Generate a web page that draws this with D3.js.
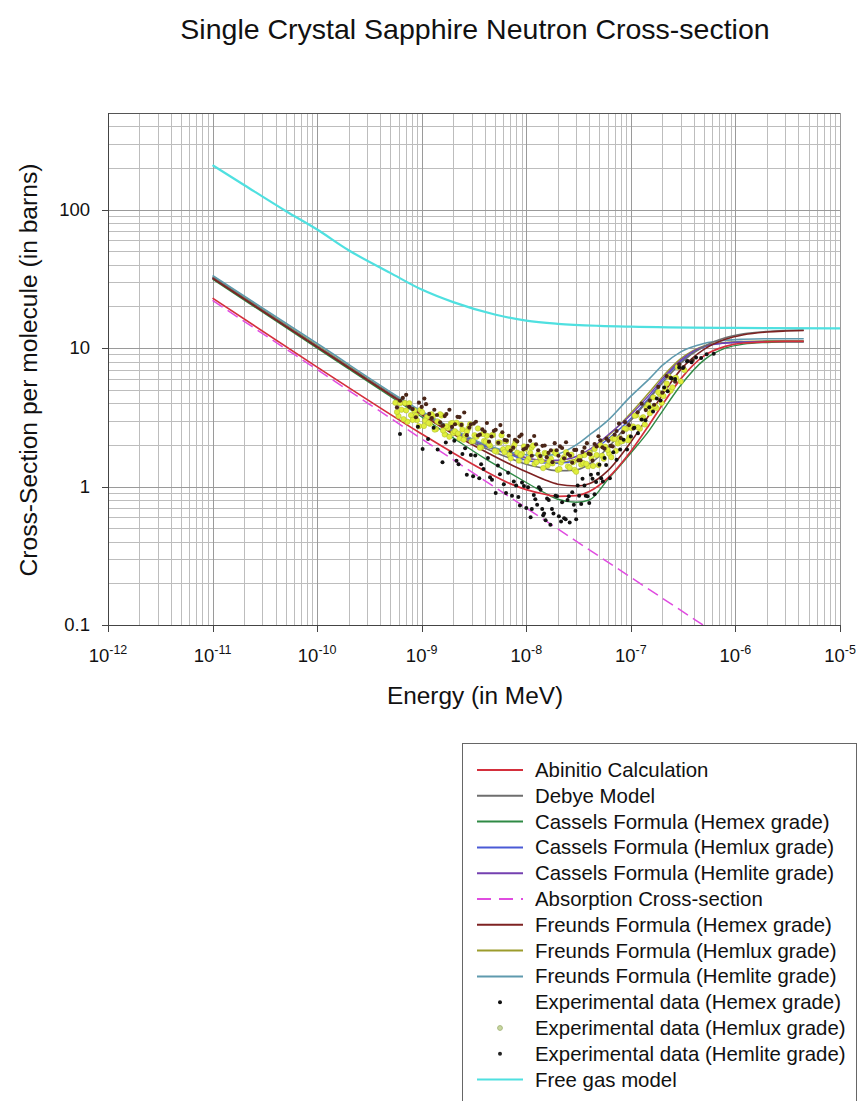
<!DOCTYPE html>
<html>
<head>
<meta charset="utf-8">
<script src="https://cdn.jsdelivr.net/npm/d3@7"></script>
<style>
  body { margin: 0; background: #fff; }
  svg { display: block; }
  text { font-family: "Liberation Sans", Arial, sans-serif; fill: #111; }
</style>
</head>
<body>
<svg id="chart" width="859" height="1101"></svg>
<script>
// ---- Model curves: energy (MeV) vs cross-section per molecule (barns) ----
const modelEnergy = [1e-11, 1e-10, 1e-9, 2e-9, 4e-9, 7e-9, 1e-8, 1.5e-8, 2e-8, 3e-8, 4e-8, 6e-8,
                     1e-7, 1.5e-7, 2e-7, 3e-7, 5e-7, 8e-7, 1.2e-6, 2e-6, 3e-6, 4.5e-6];
const abinitio     = [23, 7.3, 2.4, 1.75, 1.3, 1.05, 0.95, 0.88, 0.85, 0.86, 0.92, 1.15, 1.8, 2.8, 3.9, 6.0, 8.8, 10.3, 10.9, 11.1, 11.2, 11.2];
const debye        = [32.5, 10.3, 3.35, 2.45, 1.9, 1.6, 1.45, 1.35, 1.3, 1.32, 1.45, 1.9, 3.0, 4.3, 5.6, 7.8, 10.3, 11.9, 12.7, 13.2, 13.4, 13.5];
const casselsHemex = [31.5, 10.0, 3.18, 2.25, 1.6, 1.25, 1.07, 0.9, 0.81, 0.77, 0.8, 1.12, 1.75, 2.55, 3.5, 5.4, 8.2, 10.0, 10.7, 11.0, 11.1, 11.1];
const casselsHemlux = [32, 10.2, 3.35, 2.5, 1.95, 1.7, 1.55, 1.48, 1.47, 1.55, 1.75, 2.2, 3.1, 4.4, 5.8, 8.0, 10.2, 10.9, 11.1, 11.2, 11.2, 11.2];
const casselsHemlite = [32.3, 10.3, 3.4, 2.55, 2.0, 1.75, 1.62, 1.55, 1.55, 1.65, 1.85, 2.35, 3.3, 4.6, 6.0, 8.2, 10.3, 10.9, 11.0, 11.1, 11.1, 11.1];
const freundsHemex = [32, 10.2, 3.3, 2.4, 1.8, 1.45, 1.28, 1.12, 1.04, 1.01, 1.05, 1.3, 2.1, 3.3, 4.6, 7.0, 9.8, 11.6, 12.5, 13.1, 13.3, 13.4];
const freundsHemlux = [32.8, 10.5, 3.42, 2.55, 1.98, 1.72, 1.6, 1.52, 1.5, 1.58, 1.78, 2.3, 3.4, 4.8, 6.2, 8.4, 10.4, 11.0, 11.2, 11.3, 11.3, 11.3];
const freundsHemlite = [33.5, 10.8, 3.5, 2.6, 2.02, 1.78, 1.7, 1.68, 1.72, 2.0, 2.35, 3.0, 4.5, 6.0, 7.5, 9.4, 10.8, 11.4, 11.6, 11.7, 11.7, 11.7];

const absorptionEnergy = [1e-11, 1e-10, 1e-9, 1e-8, 1e-7, 4.9e-7];
const absorption       = [22.1, 7.0, 2.21, 0.70, 0.221, 0.1];

const freeGasEnergy = [1e-11, 2e-11, 5e-11, 1e-10, 2e-10, 5e-10, 1e-9, 2e-9, 5e-9, 1e-8, 2e-8, 5e-8, 1e-7, 1e-6, 1e-5];
const freeGas       = [210, 151, 98, 72, 51, 35, 26.5, 21.5, 17.5, 15.8, 15.0, 14.5, 14.3, 14.0, 13.9];

// ---- Experimental data ----
const expHemluxEnergy = [5.6e-10, 6.0e-10, 6.4e-10, 6.9e-10, 7.3e-10, 7.9e-10, 8.5e-10, 9.0e-10, 9.7e-10, 1.05e-9,
  1.12e-9, 1.2e-9, 1.28e-9, 1.37e-9, 1.45e-9, 1.55e-9, 1.66e-9, 1.78e-9, 1.9e-9, 2.0e-9,
  2.15e-9, 2.3e-9, 2.45e-9, 2.6e-9, 2.8e-9, 3.0e-9, 3.2e-9, 3.45e-9, 3.7e-9, 3.95e-9,
  4.2e-9, 4.5e-9, 4.8e-9, 5.2e-9, 5.6e-9, 6.0e-9, 6.4e-9, 6.9e-9, 7.4e-9, 7.9e-9,
  8.5e-9, 9.1e-9, 9.8e-9, 1.05e-8, 1.12e-8, 1.2e-8, 1.3e-8, 1.4e-8, 1.5e-8, 1.6e-8,
  1.72e-8, 1.85e-8, 2.0e-8, 2.15e-8, 2.3e-8, 2.5e-8, 2.7e-8, 2.9e-8, 3.1e-8, 3.35e-8,
  3.6e-8, 3.9e-8, 4.2e-8, 4.5e-8, 4.9e-8, 5.3e-8, 5.7e-8, 6.2e-8, 6.7e-8, 7.2e-8,
  7.8e-8, 8.4e-8, 9.0e-8, 9.7e-8, 1.05e-7, 1.13e-7, 1.22e-7, 1.31e-7, 1.41e-7, 1.52e-7,
  1.64e-7, 1.76e-7, 1.9e-7, 2.05e-7, 2.2e-7, 2.4e-7, 2.6e-7, 2.8e-7, 3.0e-7, 3.25e-7,
  5.8e-10, 6.2e-10, 6.7e-10, 7.1e-10, 7.6e-10, 8.2e-10, 8.8e-10, 9.4e-10, 1.01e-9, 1.08e-9,
  1.16e-9, 1.24e-9, 1.33e-9, 1.41e-9, 1.5e-9, 1.6e-9, 1.72e-9, 1.84e-9, 1.96e-9, 2.08e-9,
  2.22e-9, 2.38e-9, 2.52e-9, 2.7e-9, 2.9e-9, 3.1e-9, 3.35e-9, 3.6e-9, 3.85e-9, 4.1e-9,
  4.4e-9, 4.7e-9, 5.0e-9, 5.4e-9, 5.8e-9, 6.2e-9, 6.7e-9, 7.1e-9, 7.7e-9, 8.2e-9,
  8.8e-9, 9.5e-9, 1.01e-8, 1.09e-8, 1.16e-8, 1.25e-8, 1.35e-8, 1.45e-8, 1.55e-8, 1.66e-8,
  1.78e-8, 1.92e-8, 2.08e-8, 2.22e-8, 2.4e-8, 2.6e-8, 2.8e-8, 3.0e-8, 3.25e-8, 3.5e-8,
  3.75e-8, 4.05e-8, 4.35e-8, 4.7e-8, 5.1e-8, 5.5e-8, 6.0e-8, 6.5e-8, 7.0e-8, 7.5e-8,
  8.1e-8, 8.7e-8, 9.4e-8, 1.01e-7, 1.09e-7, 1.17e-7, 1.27e-7, 1.36e-7, 1.47e-7, 1.58e-7,
  1.7e-7, 1.83e-7, 1.97e-7, 2.12e-7, 2.3e-7, 2.5e-7, 2.7e-7];
const expHemlux = [4.03, 3.23, 3.59, 4.02, 2.94, 3.28, 3.55, 3.02, 3.58, 2.74,
  3.18, 2.84, 3.23, 2.60, 2.92, 3.26, 2.38, 2.65, 2.86, 2.44,
  2.90, 2.23, 2.58, 2.33, 2.64, 2.12, 2.35, 2.63, 1.92, 2.14,
  2.33, 1.97, 2.36, 1.79, 2.08, 1.86, 2.12, 1.70, 1.90, 2.12,
  1.54, 1.73, 1.88, 1.59, 1.91, 1.46, 1.71, 1.53, 1.75, 1.42,
  1.59, 1.79, 1.32, 1.49, 1.63, 1.40, 1.70, 1.32, 1.56, 1.44,
  1.69, 1.40, 1.61, 1.87, 1.43, 1.67, 1.94, 1.73, 2.22, 1.81,
  2.24, 2.14, 2.61, 2.27, 2.72, 3.28, 2.62, 3.17, 3.72, 3.39,
  4.41, 3.70, 4.64, 4.51, 5.55, 4.93, 6.03, 7.31, 5.75, 6.94,
  3.46, 4.00, 3.07, 3.55, 4.00, 3.03, 3.27, 2.73, 3.44, 3.00,
  2.88, 3.33, 2.58, 2.96, 3.33, 2.54, 2.73, 2.29, 2.88, 2.51,
  2.42, 2.80, 2.18, 2.50, 2.82, 2.13, 2.29, 1.91, 2.40, 2.11,
  2.02, 2.35, 1.81, 2.08, 2.35, 1.77, 1.90, 1.60, 2.00, 1.76,
  1.69, 1.95, 1.52, 1.75, 1.98, 1.50, 1.63, 1.36, 1.73, 1.52,
  1.47, 1.73, 1.34, 1.56, 1.77, 1.37, 1.50, 1.28, 1.64, 1.48,
  1.46, 1.75, 1.41, 1.69, 1.99, 1.59, 1.84, 1.63, 2.21, 2.05,
  2.12, 2.62, 2.16, 2.65, 3.25, 2.68, 3.10, 2.81, 3.90, 3.67,
  3.82, 4.80, 4.01, 5.09, 6.24, 5.21, 6.11];

const expHemliteEnergy = [5.8e-10, 6.6e-10, 7.6e-10, 8.8e-10, 1.0e-9, 1.1e-9, 1.25e-9, 1.4e-9, 1.6e-9, 1.72e-9,
  1.95e-9, 2.2e-9, 2.4e-9, 2.7e-9, 2.95e-9, 3.3e-9, 3.6e-9, 4.0e-9, 4.4e-9, 4.9e-9,
  5.4e-9, 5.9e-9, 6.5e-9, 7.1e-9, 7.8e-9, 8.6e-9, 9.4e-9, 1.03e-8, 1.13e-8, 1.24e-8,
  1.36e-8, 1.5e-8, 1.63e-8, 1.78e-8, 1.95e-8, 2.1e-8, 2.3e-8, 2.5e-8, 2.75e-8, 3.0e-8,
  3.3e-8, 3.6e-8, 3.95e-8, 4.3e-8, 4.7e-8, 5.1e-8, 5.6e-8, 6.1e-8, 6.7e-8, 7.3e-8,
  8.0e-8, 8.8e-8, 9.6e-8, 1.06e-7, 1.16e-7, 1.27e-7, 1.39e-7, 1.52e-7, 1.67e-7, 1.83e-7,
  2.0e-7, 2.2e-7, 2.4e-7, 2.65e-7, 2.9e-7, 3.2e-7, 3.5e-7, 3.9e-7,
  6.2e-10, 7.1e-10, 8.2e-10, 9.4e-10, 1.06e-9, 1.18e-9, 1.32e-9, 1.5e-9, 1.66e-9, 1.84e-9,
  2.08e-9, 2.3e-9, 2.55e-9, 2.85e-9, 3.15e-9, 3.45e-9, 3.8e-9, 4.2e-9, 4.65e-9, 5.1e-9,
  5.65e-9, 6.2e-9, 6.8e-9, 7.5e-9, 8.2e-9, 9.0e-9, 9.9e-9, 1.09e-8, 1.19e-8, 1.3e-8,
  1.43e-8, 1.57e-8, 1.72e-8, 1.87e-8, 2.03e-8, 2.2e-8, 2.4e-8, 2.62e-8, 2.88e-8, 3.15e-8,
  3.45e-8, 3.8e-8, 4.1e-8, 4.5e-8, 4.9e-8, 5.35e-8, 5.85e-8, 6.4e-8, 7.0e-8, 7.7e-8, 8.4e-8];
const expHemlite = [3.73, 4.37, 3.77, 3.17, 3.76, 3.94, 3.13, 3.29, 2.77, 3.34,
  2.70, 3.19, 2.79, 2.35, 2.82, 2.94, 2.37, 2.50, 2.11, 2.53,
  2.07, 2.47, 2.15, 1.82, 2.18, 2.30, 1.86, 1.97, 1.67, 2.02,
  1.66, 1.98, 1.75, 1.50, 1.83, 1.95, 1.60, 1.72, 1.49, 1.84,
  1.55, 1.91, 1.73, 1.54, 1.95, 2.16, 1.88, 2.14, 1.95, 2.52,
  2.24, 2.92, 2.78, 2.63, 3.44, 3.97, 3.57, 4.18, 3.90, 5.25,
  4.77, 6.29, 6.10, 5.73, 7.63, 7.30, 8.06, 8.20,
  4.17, 4.60, 3.63, 4.04, 4.32, 3.35, 3.59, 2.91, 3.23, 3.59,
  2.82, 3.18, 3.43, 2.67, 2.85, 2.34, 2.59, 2.88, 2.30, 2.57,
  2.78, 2.17, 2.33, 1.91, 2.12, 2.37, 1.89, 2.14, 2.32, 1.83,
  1.97, 1.63, 1.83, 2.06, 1.67, 1.90, 2.09, 1.67, 1.84, 1.55,
  1.78, 2.06, 1.71, 2.03, 2.31, 1.92, 2.22, 1.97, 2.37, 2.85, 2.47];

const expHemexEnergy = [6.2e-10, 9.2e-10, 1.02e-9, 1.15e-9, 1.3e-9, 1.42e-9, 1.58e-9, 1.7e-9, 1.88e-9, 2.05e-9,
  2.25e-9, 2.45e-9, 2.7e-9, 2.95e-9, 3.25e-9, 3.55e-9, 3.9e-9, 4.3e-9, 4.7e-9, 5.1e-9,
  5.6e-9, 6.1e-9, 6.7e-9, 7.3e-9, 8.0e-9, 8.7e-9, 9.5e-9, 1.04e-8, 1.13e-8, 1.22e-8,
  1.32e-8, 1.42e-8, 1.53e-8, 1.64e-8, 1.76e-8, 1.9e-8, 2.05e-8, 2.2e-8, 2.38e-8, 2.55e-8,
  2.75e-8, 2.95e-8, 3.2e-8, 3.45e-8, 3.7e-8, 4.0e-8, 4.3e-8, 4.65e-8, 5.0e-8, 5.4e-8,
  5.8e-8, 6.3e-8, 6.8e-8, 7.3e-8, 7.9e-8, 8.5e-8, 9.2e-8, 1.0e-7, 1.08e-7, 1.17e-7,
  1.27e-7, 1.38e-7, 1.5e-7, 1.63e-7, 1.77e-7, 1.92e-7, 2.08e-7, 2.25e-7, 2.45e-7, 2.65e-7,
  2.9e-7, 3.15e-7, 3.45e-7, 3.8e-7, 4.2e-7, 4.7e-7, 5.3e-7, 6.2e-7,
  1.1e-8, 1.7e-8, 2.6e-8, 3.0e-8, 1.45e-8, 2.15e-8,
  2.15e-9, 2.6e-9, 3.1e-9, 3.7e-9, 4.5e-9, 5.35e-9, 6.4e-9, 7.6e-9, 8.4e-9, 9.1e-9,
  1.0e-8, 1.18e-8, 1.27e-8, 1.37e-8, 1.48e-8, 1.58e-8, 1.82e-8, 1.97e-8, 2.3e-8, 2.48e-8,
  2.85e-8, 3.1e-8, 3.35e-8, 3.6e-8, 3.85e-8, 4.15e-8, 4.5e-8, 4.85e-8, 5.2e-8, 5.6e-8];
const expHemex = [2.40, 2.71, 1.87, 2.21, 2.66, 1.85, 1.50, 2.08, 1.76, 2.14,
  1.45, 1.72, 1.22, 1.69, 1.68, 1.15, 1.34, 1.61, 1.12, 0.90,
  1.23, 1.04, 1.26, 0.86, 1.02, 0.73, 1.01, 0.99, 0.69, 0.81,
  0.99, 0.69, 0.57, 0.80, 0.69, 0.86, 0.61, 0.77, 0.58, 0.85,
  0.91, 0.67, 0.86, 1.14, 0.86, 0.76, 1.14, 1.08, 1.44, 1.09,
  1.43, 1.15, 1.77, 1.56, 1.85, 2.18, 1.85, 2.30, 2.66, 2.43,
  3.05, 3.01, 3.74, 3.48, 4.32, 4.18, 5.19, 4.88, 6.03, 5.99,
  7.25, 7.20, 8.03, 7.91, 8.57, 8.48, 9.03, 9.10,
  0.60, 0.53, 0.55, 0.58, 0.62, 0.56,
  1.54, 1.89, 1.19, 1.45, 1.17, 1.42, 0.90, 1.09, 0.84, 1.07,
  0.70, 0.87, 0.74, 0.95, 0.64, 0.82, 0.64, 0.85, 0.59, 0.80,
  0.74, 1.02, 0.75, 1.02, 0.85, 1.22, 0.88, 1.24, 1.15, 1.61];

// ---- Axis ticks and labels ----
const xDecades = [-12, -11, -10, -9, -8, -7, -6, -5];
const yTickValues = [0.1, 1, 10, 100];
const yTickLabels = ["0.1", "1", "10", "100"];
const legendLabels = [
  "Abinitio Calculation", "Debye Model",
  "Cassels Formula (Hemex grade)", "Cassels Formula (Hemlux grade)", "Cassels Formula (Hemlite grade)",
  "Absorption Cross-section",
  "Freunds Formula (Hemex grade)", "Freunds Formula (Hemlux grade)", "Freunds Formula (Hemlite grade)",
  "Experimental data (Hemex grade)", "Experimental data (Hemlux grade)", "Experimental data (Hemlite grade)",
  "Free gas model"
];

// ---- Layout and styling ----
const svg = d3.select("#chart");
const plot = { left: 108, right: 840, top: 113, bottom: 625 };

const x = d3.scaleLog().domain([1e-12, 1e-5]).range([plot.left, plot.right]);
const y = d3.scaleLog().domain([0.1, 500]).range([plot.bottom, plot.top]);

const styles = {
  abinitio:      { color: "#d42f3c", width: 1.7 },
  debye:         { color: "#6e6e6e", width: 1.6 },
  casselsHemex:  { color: "#2f8a45", width: 1.4 },
  casselsHemlux: { color: "#4a5ad6", width: 1.4 },
  casselsHemlite:{ color: "#7440b0", width: 1.4 },
  absorption:    { color: "#e04ce0", width: 1.5, dash: "12,6" },
  freundsHemex:  { color: "#7e2222", width: 1.6 },
  freundsHemlux: { color: "#9c9c2c", width: 1.4 },
  freundsHemlite:{ color: "#5f9aae", width: 1.6 },
  freeGas:       { color: "#4fe0e0", width: 2.2 }
};

// Title and axis titles
svg.append("text").attr("x", 475).attr("y", 39).attr("text-anchor", "middle")
  .style("font-size", "28.5px").text("Single Crystal Sapphire Neutron Cross-section");
svg.append("text").attr("x", 475).attr("y", 704).attr("text-anchor", "middle")
  .style("font-size", "24.4px").text("Energy (in MeV)");
svg.append("text").attr("transform", "translate(37,370) rotate(-90)").attr("text-anchor", "middle")
  .style("font-size", "24.6px").text("Cross-Section per molecule (in barns)");

// Grid
const grid = svg.append("g").attr("shape-rendering", "crispEdges");
const xMinor = [];
for (let k = -12; k < -5; k++) for (let m = 2; m <= 9; m++) xMinor.push(m * Math.pow(10, k));
const yMinor = [];
for (let k = -1; k <= 2; k++) for (let m = 2; m <= 9; m++) {
  const v = m * Math.pow(10, k);
  if (v < 500) yMinor.push(v);
}
grid.selectAll(".xmin").data(xMinor).join("line")
  .attr("x1", d => Math.round(x(d)) + 0.5).attr("x2", d => Math.round(x(d)) + 0.5)
  .attr("y1", plot.top).attr("y2", plot.bottom).attr("stroke", "#bdbdbd");
grid.selectAll(".ymin").data(yMinor).join("line")
  .attr("y1", d => Math.round(y(d)) + 0.5).attr("y2", d => Math.round(y(d)) + 0.5)
  .attr("x1", plot.left).attr("x2", plot.right).attr("stroke", "#bdbdbd");
grid.selectAll(".xmaj").data(xDecades).join("line")
  .attr("x1", d => Math.round(x(Math.pow(10, d))) + 0.5).attr("x2", d => Math.round(x(Math.pow(10, d))) + 0.5)
  .attr("y1", plot.top).attr("y2", plot.bottom).attr("stroke", "#9a9a9a");
grid.selectAll(".ymaj").data([1, 10, 100]).join("line")
  .attr("y1", d => Math.round(y(d)) + 0.5).attr("y2", d => Math.round(y(d)) + 0.5)
  .attr("x1", plot.left).attr("x2", plot.right).attr("stroke", "#9a9a9a");

// Frame
grid.append("line").attr("x1", plot.left).attr("x2", plot.right).attr("y1", plot.top + 0.5).attr("y2", plot.top + 0.5).attr("stroke", "#555");
grid.append("line").attr("x1", plot.left + 0.5).attr("x2", plot.left + 0.5).attr("y1", plot.top).attr("y2", plot.bottom).attr("stroke", "#444");
grid.append("line").attr("x1", plot.left - 6).attr("x2", plot.right).attr("y1", plot.bottom + 0.5).attr("y2", plot.bottom + 0.5).attr("stroke", "#444");

// Y axis ticks
const yAxisG = svg.append("g").attr("shape-rendering", "crispEdges");
yAxisG.selectAll("line").data(yTickValues).join("line")
  .attr("x1", plot.left - 6).attr("x2", plot.left)
  .attr("y1", d => Math.round(y(d)) + 0.5).attr("y2", d => Math.round(y(d)) + 0.5).attr("stroke", "#444");
svg.selectAll(".ylab").data(yTickValues).join("text")
  .attr("x", 90).attr("y", d => y(d) + 6).attr("text-anchor", "end")
  .style("font-size", "18.5px").text((d, i) => yTickLabels[i]);

// X axis ticks with power-of-ten labels
const xAxisG = svg.append("g").attr("shape-rendering", "crispEdges");
xAxisG.selectAll("line").data(xDecades).join("line")
  .attr("x1", d => Math.round(x(Math.pow(10, d))) + 0.5).attr("x2", d => Math.round(x(Math.pow(10, d))) + 0.5)
  .attr("y1", plot.bottom).attr("y2", plot.bottom + 7).attr("stroke", "#444");
const xl = svg.selectAll(".xlab").data(xDecades).join("text")
  .attr("x", d => x(Math.pow(10, d))).attr("y", 662).attr("text-anchor", "middle")
  .style("font-size", "18.5px");
xl.append("tspan").text("10");
xl.append("tspan").attr("dy", -8).style("font-size", "12.5px").text(d => String(d));

// Clip to plotting area
svg.append("clipPath").attr("id", "plotClip").append("rect")
  .attr("x", plot.left).attr("y", plot.top).attr("width", plot.right - plot.left).attr("height", plot.bottom - plot.top);
const layer = svg.append("g").attr("clip-path", "url(#plotClip)");

const line = d3.line().x(d => x(d[0])).y(d => y(d[1])).curve(d3.curveMonotoneX);
const zip = (es, vs) => es.map((e, i) => [e, vs[i]]);

function drawCurve(es, vs, st) {
  layer.append("path").datum(zip(es, vs))
    .attr("d", line).attr("fill", "none")
    .attr("stroke", st.color).attr("stroke-width", st.width)
    .attr("stroke-dasharray", st.dash || null);
}

// Absorption sits underneath the model curves
drawCurve(absorptionEnergy, absorption, styles.absorption);

// Model curves
drawCurve(modelEnergy, freundsHemlux, styles.freundsHemlux);
drawCurve(modelEnergy, casselsHemlux, styles.casselsHemlux);
drawCurve(modelEnergy, casselsHemlite, styles.casselsHemlite);
drawCurve(modelEnergy, freundsHemlite, styles.freundsHemlite);
drawCurve(modelEnergy, casselsHemex, styles.casselsHemex);
drawCurve(modelEnergy, debye, styles.debye);
drawCurve(modelEnergy, abinitio, styles.abinitio);
drawCurve(modelEnergy, freundsHemex, styles.freundsHemex);

// Experimental points
layer.append("g").selectAll("circle").data(zip(expHemluxEnergy, expHemlux)).join("circle")
  .attr("cx", d => x(d[0])).attr("cy", d => y(d[1])).attr("r", 2.7)
  .attr("fill", "#e0ee3c").attr("stroke", "#aab82c").attr("stroke-width", 0.5);
layer.append("g").selectAll("circle").data(zip(expHemliteEnergy, expHemlite)).join("circle")
  .attr("cx", d => x(d[0])).attr("cy", d => y(d[1])).attr("r", 2.1).attr("fill", "#4a2618");
layer.append("g").selectAll("circle").data(zip(expHemexEnergy, expHemex)).join("circle")
  .attr("cx", d => x(d[0])).attr("cy", d => y(d[1])).attr("r", 2).attr("fill", "#111");

// Free gas model on top
drawCurve(freeGasEnergy, freeGas, styles.freeGas);

// ---- Legend ----
const legend = svg.append("g");
legend.append("rect").attr("x", 462.5).attr("y", 743.5).attr("width", 394).attr("height", 380)
  .attr("fill", "#fff").attr("stroke", "#666").attr("stroke-width", 1);
const legendKeys = ["abinitio", "debye", "casselsHemex", "casselsHemlux", "casselsHemlite", "absorption",
  "freundsHemex", "freundsHemlux", "freundsHemlite", "ptHemex", "ptHemlux", "ptHemlite", "freeGas"];
const markerStyle = {
  ptHemex:  { r: 2, fill: "#111", stroke: "none" },
  ptHemlux: { r: 2.4, fill: "#c9d8a0", stroke: "#a8b880" },
  ptHemlite:{ r: 2, fill: "#222", stroke: "none" }
};
legendLabels.forEach((label, i) => {
  const cy = 770 + i * 25.8;
  const key = legendKeys[i];
  if (styles[key]) {
    legend.append("line").attr("x1", 477).attr("x2", 523).attr("y1", cy).attr("y2", cy)
      .attr("stroke", styles[key].color).attr("stroke-width", 2)
      .attr("stroke-dasharray", styles[key].dash ? "14,8" : null);
  } else {
    const m = markerStyle[key];
    legend.append("circle").attr("cx", 500).attr("cy", cy).attr("r", m.r)
      .attr("fill", m.fill).attr("stroke", m.stroke);
  }
  legend.append("text").attr("x", 535).attr("y", cy + 7).style("font-size", "20.4px").text(label);
});
</script>
</body>
</html>
